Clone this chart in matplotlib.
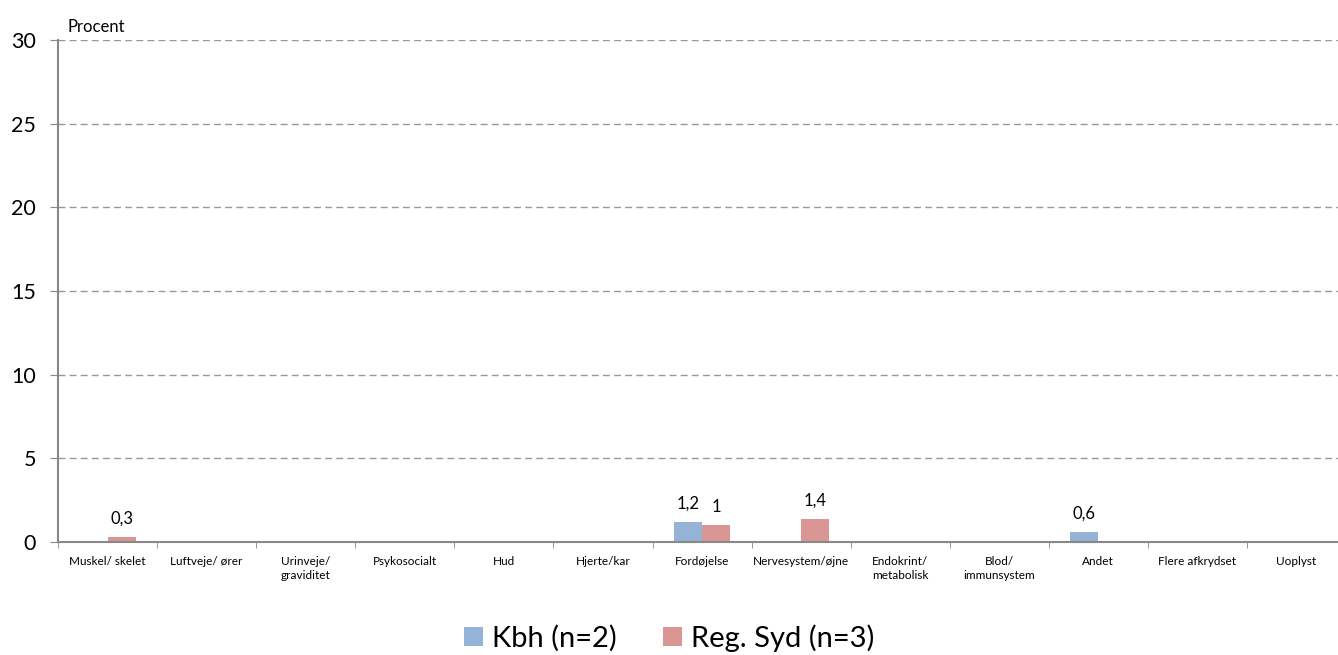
import numpy as np
import matplotlib.pyplot as plt

categories = ["Muskel/ skelet", "Luftveje/ ører", "Urinveje/\ngraviditet", "Psykosocialt",
              "Hud", "Hjerte/kar", "Fordøjelse", "Nervesystem/øjne", "Endokrint/\nmetabolisk",
              "Blod/\nimmunsystem", "Andet", "Flere afkrydset", "Uoplyst"]
kbh = [0, 0, 0, 0, 0, 0, 1.2, 0, 0, 0, 0.6, 0, 0]
syd = [0.3, 0, 0, 0, 0, 0, 1.0, 1.4, 0, 0, 0, 0, 0]
series_names = ["Kbh (n=2)", "Reg. Syd (n=3)"]

plt.rcParams['font.family'] = ['Lato', 'DejaVu Sans']

fig = plt.figure(figsize=(13.38, 6.55), dpi=100)
ax = fig.add_axes([0.0434, 0.1725, 0.9626, 0.7665])

x = np.arange(len(categories))
w = 0.285
b1 = ax.bar(x - w / 2, kbh, w, color="#95B3D7", label=series_names[0])
b2 = ax.bar(x + w / 2, syd, w, color="#D99694", label=series_names[1])

def fmt(v):
    return ("%g" % v).replace(".", ",")

for bars, vals in ((b1, kbh), (b2, syd)):
    for r, v in zip(bars, vals):
        if v > 0:
            ax.text(r.get_x() + r.get_width() / 2, v + 0.6, fmt(v),
                    ha="center", va="bottom", fontsize=12)

ax.set_ylim(0, 30)
ax.set_xlim(-0.5, len(categories) - 0.5)
ax.set_yticks(range(0, 31, 5))
ax.tick_params(axis="y", labelsize=15.5, length=6, color="#888888", pad=10)
ax.yaxis.grid(True, linestyle=(0, (5, 3)), color="#999999", linewidth=1)
ax.set_axisbelow(True)

ax.set_xticks(x)
ax.set_xticklabels(categories, fontsize=8.5, linespacing=1.3)
ax.tick_params(axis="x", length=0, pad=10)
ax.set_xticks(np.arange(len(categories) + 1) - 0.5, minor=True)
ax.tick_params(axis="x", which="minor", length=4, color="#888888")

for s in ("top", "right"):
    ax.spines[s].set_visible(False)
for s in ("left", "bottom"):
    ax.spines[s].set_color("#888888")
    ax.spines[s].set_linewidth(1.5)

ax.text(0.007, 1.01, "Procent", transform=ax.transAxes, fontsize=12, va="bottom")

fig.legend(handles=[b1, b2], loc="lower center", bbox_to_anchor=(0.5, -0.035),
           ncol=2, frameon=False, fontsize=21, handlelength=0.65, handleheight=0.65,
           handletextpad=0.3, columnspacing=1.6)

fig.savefig("out.png", dpi=100)
